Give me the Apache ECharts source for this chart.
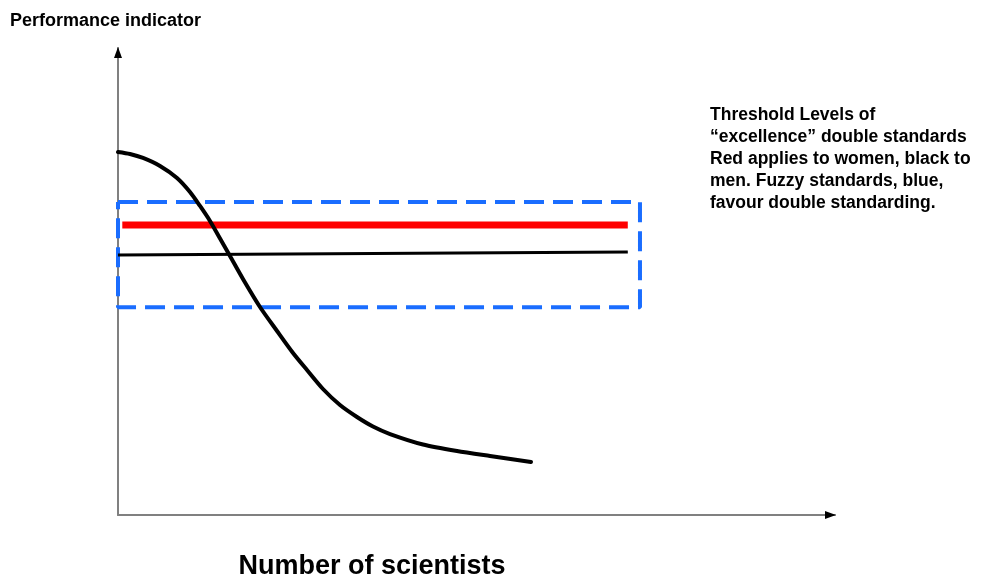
<!DOCTYPE html>
<html>
<head>
<meta charset="utf-8">
<script src="https://cdn.jsdelivr.net/npm/echarts@6/dist/echarts.min.js"></script>
<style>html,body{margin:0;padding:0;background:#fff;}#chart{width:987px;height:579px;}</style>
</head>
<body>
<div id="chart"></div>
<script>
// Performance curve (x: number of scientists, y: performance indicator)
const curveX = [0, 1.67, 3.49, 5.86, 8.23, 10.04, 11.44, 12.83, 14.23, 15.62, 17.43, 19.80, 22.18, 24.41, 26.36, 28.59, 30.96, 33.33, 35.56, 37.94, 42.54, 47.28, 51.88, 57.60];
const curveY = [77.73, 77.30, 76.45, 74.73, 72.16, 69.16, 66.17, 62.96, 59.21, 55.46, 50.54, 44.54, 39.40, 34.69, 31.05, 26.98, 23.55, 20.99, 18.95, 17.34, 15.10, 13.70, 12.63, 11.35];
// Threshold for women (red)
const redX = [0.6, 71.1];
const redY = [62.1, 62.1];
// Threshold for men (black)
const blackX = [0, 71.1];
const blackY = [55.7, 56.3];
// Fuzzy standards band (blue dashed box)
const boxX = [0, 72.8, 72.8, 0, 0];
const boxY = [67.0, 67.0, 44.5, 44.5, 67.0];

const yAxisTitle = 'Performance indicator';
const xAxisTitle = 'Number of scientists';
const noteLines = [
  'Threshold Levels of',
  '\u201Cexcellence\u201D double standards',
  'Red applies to women, black to',
  'men. Fuzzy standards, blue,',
  'favour double standarding.'
];

const zip = (xs, ys) => xs.map((x, i) => [x, ys[i]]);
const FONT = '"Liberation Sans", Arial, sans-serif';

const chart = echarts.init(document.getElementById('chart'), null, {renderer: 'canvas'});
const axisCommon = {
  type: 'value', min: 0, max: 100,
  axisLabel: {show: false}, axisTick: {show: false}, splitLine: {show: false},
  axisLine: {show: true, lineStyle: {color: '#808080', width: 2}}
};
const texts = [
  {type: 'text', x: 10, y: 21, style: {text: yAxisTitle, font: 'bold 18px ' + FONT, fill: '#000', verticalAlign: 'middle'}},
  {type: 'text', x: 372, y: 567, style: {text: xAxisTitle, font: 'bold 27px ' + FONT, fill: '#000', align: 'center', verticalAlign: 'middle'}},
  {type: 'text', x: 710, y: 104, style: {text: noteLines.join('\n'), font: 'bold 17.5px ' + FONT, lineHeight: 22, fill: '#000', verticalAlign: 'top'}}
];
chart.setOption({
  animation: false,
  backgroundColor: '#ffffff',
  grid: {left: 118, right: 152, top: 48, bottom: 64},
  xAxis: Object.assign({}, axisCommon),
  yAxis: Object.assign({}, axisCommon),
  graphic: texts,
  series: [
    {type: 'line', data: zip(boxX, boxY), symbol: 'none', clip: false, z: 2,
      lineStyle: {color: '#1a6dff', width: 4, type: [20, 9]}},
    {type: 'line', data: zip(blackX, blackY), symbol: 'none', clip: false, z: 3,
      lineStyle: {color: '#000', width: 3}},
    {type: 'line', data: zip(redX, redY), symbol: 'none', clip: false, z: 4,
      lineStyle: {color: '#ff0000', width: 7}},
    {type: 'line', data: zip(curveX, curveY), symbol: 'none', smooth: 0.25, clip: false, z: 5,
      lineStyle: {color: '#000', width: 4, join: 'round', cap: 'round'}}
  ]
});
// Arrow heads at the axis ends (black), positioned through the axis scales
const yTip = chart.convertToPixel({gridIndex: 0}, [0, 100]);
const xTip = chart.convertToPixel({gridIndex: 0}, [100, 0]);
chart.setOption({
  graphic: texts.concat([
    {type: 'polygon', z: 100, shape: {points: [[yTip[0], yTip[1] - 1], [yTip[0] - 4, yTip[1] + 10], [yTip[0] + 4, yTip[1] + 10]]}, style: {fill: '#000'}},
    {type: 'polygon', z: 100, shape: {points: [[xTip[0] + 1, xTip[1]], [xTip[0] - 10, xTip[1] - 4], [xTip[0] - 10, xTip[1] + 4]]}, style: {fill: '#000'}}
  ])
});
</script>
</body>
</html>
